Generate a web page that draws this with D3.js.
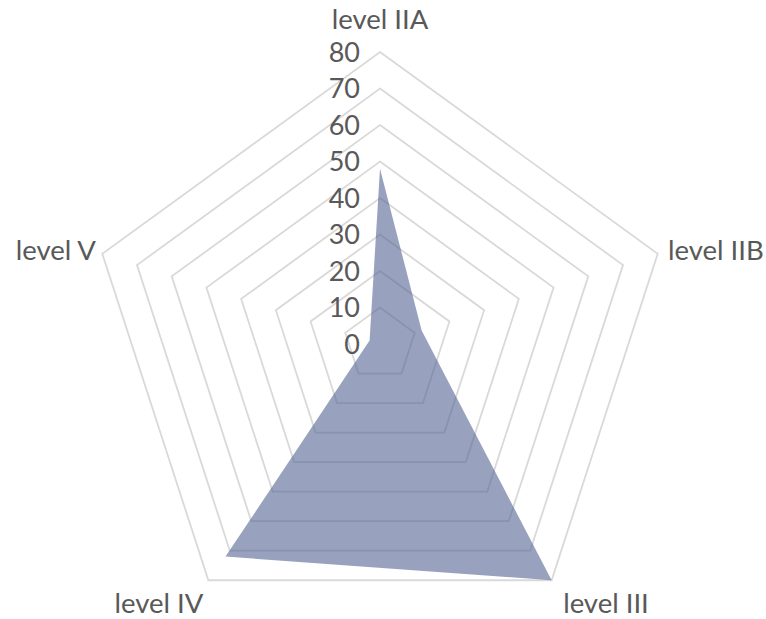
<!DOCTYPE html>
<html><head><meta charset="utf-8">
<script src="https://cdn.jsdelivr.net/npm/d3@7"></script>
<style>body{margin:0;background:#fff}</style>
</head><body>
<svg id="c" width="766" height="619"></svg>
<script>
const categories = ["level IIA", "level IIB", "level III", "level IV", "level V"];
const values = [48, 12, 80, 72, 3];
const tickValues = [0, 10, 20, 30, 40, 50, 60, 70, 80];

const svg = d3.select("#c");
const cx = 380, cy = 344, R = 292;
const r = d3.scaleLinear().domain([0, 80]).range([0, R]);
const n = categories.length;
const ang = i => i * 2 * Math.PI / n;
const pt = (i, v) => [cx + r(v) * Math.sin(ang(i)), cy - r(v) * Math.cos(ang(i))];

const grid = svg.append("g");
tickValues.filter(t => t > 0).forEach(t => {
  grid.append("path")
    .attr("d", d3.line()(d3.range(n).map(i => pt(i, t))) + "Z")
    .attr("fill", "none").attr("stroke", "#d9d9d9").attr("stroke-width", 1.8);
});

svg.append("path")
  .attr("d", d3.line()(values.map((v, i) => pt(i, v))) + "Z")
  .attr("fill", "rgb(83,100,148)").attr("fill-opacity", 0.6);

const font = "Lato, 'Open Sans', sans-serif";
svg.append("g").selectAll("text").data(tickValues).join("text")
  .attr("x", 360).attr("y", d => cy - r(d) + 3)
  .attr("text-anchor", "end").attr("dominant-baseline", "middle")
  .attr("font-family", font).attr("font-size", 27).attr("fill", "#595959")
  .text(d => d);

const labelPos = [
  {x: 380, y: 22, anchor: "middle"},
  {x: 668, y: 253, anchor: "start"},
  {x: 606, y: 606, anchor: "middle"},
  {x: 159, y: 606, anchor: "middle"},
  {x: 96, y: 253, anchor: "end"}
];
svg.append("g").selectAll("text").data(categories).join("text")
  .attr("x", (d, i) => labelPos[i].x).attr("y", (d, i) => labelPos[i].y)
  .attr("text-anchor", (d, i) => labelPos[i].anchor).attr("dominant-baseline", "middle")
  .attr("font-family", font).attr("font-size", 27.5).attr("fill", "#595959")
  .text(d => d);
</script>
</body></html>
